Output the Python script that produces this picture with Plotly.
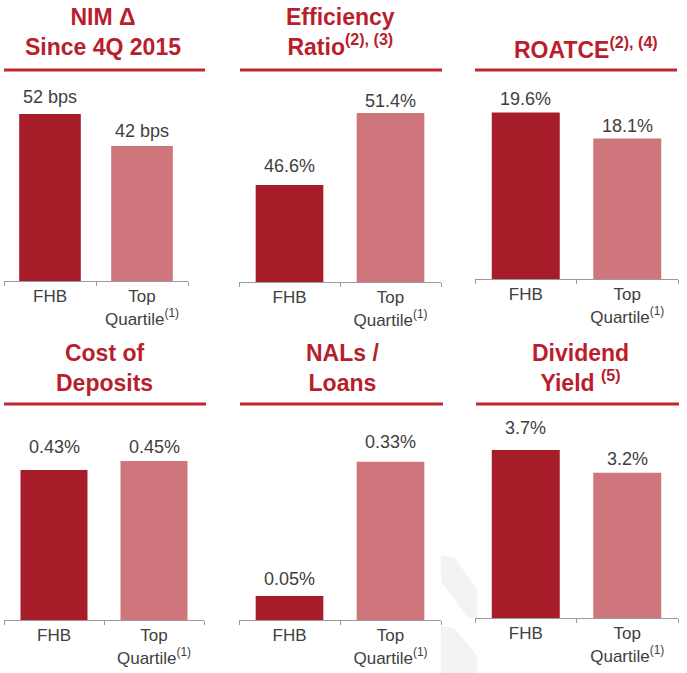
import plotly.graph_objects as go

# ---------------- data ----------------
categories = ["FHB", "Top Quartile"]
tick_labels = ["FHB", "Top<br>Quartile<sup>(1)</sup>"]

titles = [
    "NIM Δ<br>Since 4Q 2015",
    "Efficiency<br>Ratio<sup>(2), (3)</sup>",
    "ROATCE<sup>(2), (4)</sup>",
    "Cost of<br>Deposits",
    "NALs /<br>Loans",
    "Dividend<br>Yield <sup>(5)</sup>",
]

nim_delta_bps = [52, 42]
efficiency_ratio = [46.6, 51.4]
roatce = [19.6, 18.1]
cost_of_deposits = [0.43, 0.45]
nals_loans = [0.05, 0.33]
dividend_yield = [3.7, 3.2]

series = [nim_delta_bps, efficiency_ratio, roatce, cost_of_deposits, nals_loans, dividend_yield]
label_fmt = [
    lambda v: f"{v:.0f} bps",
    lambda v: f"{v:.1f}%",
    lambda v: f"{v:.1f}%",
    lambda v: f"{v:.2f}%",
    lambda v: f"{v:.2f}%",
    lambda v: f"{v:.1f}%",
]

# ---------------- styling / layout (pixels) ----------------
W, H = 687, 673
def fx(x):
    return x / W
def fy(y):
    return 1 - y / H

# x0, x1, baseline y, top y, y-range
panels = [
    dict(x0=4, x1=188, yb=281, yt=75, rng=[0, 64.1]),
    dict(x0=239, x1=441, yb=282, yt=75, rng=[40.13, 53.93]),
    dict(x0=475, x1=678, yb=279, yt=75, rng=[10.0, 21.77]),
    dict(x0=4, x1=204, yb=620, yt=410, rng=[0.0967, 0.563]),
    dict(x0=239, x1=441, yb=620, yt=410, rng=[0.0, 0.438]),
    dict(x0=475, x1=678, yb=618, yt=410, rng=[0.0, 4.58]),
]
title_pos = [(103, 32), (340, 32), (586, 48), (104, 368), (342, 368), (580, 368)]
underlines = [(4, 205, 70), (240, 442, 70), (475, 677, 70),
              (4, 206, 404), (240, 443, 404), (476, 679, 404)]
label_offsets = [[17, 15], [19, 12], [14, 13], [23, 14], [17, 20], [22, 14]]

DARK = "#a71c29"
PINK = "#cf767d"
TITLE_RED = "#b81e2c"
LINE_RED = "#c0262f"
TEXT_GRAY = "#404040"
AXIS_GRAY = "#9a9a9a"
FONT = "Liberation Sans, Arial, sans-serif"

fig = go.Figure()
annotations = []
shapes = []

for i, (vals, p) in enumerate(zip(series, panels)):
    n = i + 1
    xa = "x" if n == 1 else f"x{n}"
    ya = "y" if n == 1 else f"y{n}"
    fig.add_trace(go.Bar(
        x=categories, y=vals,
        marker=dict(color=[DARK, PINK], line=dict(width=0)),
        xaxis=xa, yaxis=ya, hoverinfo="skip", showlegend=False,
    ))
    xkey = "xaxis" if n == 1 else f"xaxis{n}"
    ykey = "yaxis" if n == 1 else f"yaxis{n}"
    fig.update_layout(**{
        xkey: dict(
            domain=[fx(p["x0"]), fx(p["x1"])], anchor=ya,
            type="category", range=[-0.5, 1.5],
            tickmode="array", tickvals=categories, ticktext=tick_labels,
            tickson="boundaries", ticks="outside", ticklen=4,
            tickcolor=AXIS_GRAY, tickwidth=1,
            showline=True, linecolor=AXIS_GRAY, linewidth=1,
            showgrid=False, zeroline=False, fixedrange=True,
            tickfont=dict(family=FONT, size=17, color=TEXT_GRAY),
        ),
        ykey: dict(
            domain=[fy(p["yb"]), fy(p["yt"])], anchor=xa,
            range=p["rng"], visible=False, showgrid=False,
            zeroline=False, fixedrange=True,
        ),
    })
    # value labels
    for j, v in enumerate(vals):
        annotations.append(dict(
            x=categories[j], y=v, xref=xa, yref=ya,
            text=label_fmt[i](v), showarrow=False,
            yanchor="middle", xanchor="center", yshift=label_offsets[i][j],
            font=dict(family=FONT, size=18, color=TEXT_GRAY),
        ))
    # title
    tx, ty = title_pos[i]
    annotations.append(dict(
        x=fx(tx), y=fy(ty), xref="paper", yref="paper",
        text=f"<b>{titles[i]}</b>", showarrow=False,
        xanchor="center", yanchor="middle", align="center",
        font=dict(family=FONT, size=23, color=TITLE_RED),
    ))
    ux0, ux1, uy = underlines[i]
    shapes.append(dict(
        type="line", xref="paper", yref="paper",
        x0=fx(ux0), x1=fx(ux1), y0=fy(uy), y1=fy(uy),
        line=dict(color=LINE_RED, width=3),
    ))

# faint decorative background shapes
def path(pts):
    s = "M " + " L ".join(f"{fx(x):.4f},{fy(y):.4f}" for x, y in pts) + " Z"
    return s
for pts in [
    [(441, 555), (455, 558), (477, 590), (477, 618), (468, 618), (441, 582)],
    [(441, 626), (455, 629), (477, 656), (477, 673), (441, 673)],
]:
    shapes.append(dict(type="path", xref="paper", yref="paper", path=path(pts),
                       fillcolor="#f3f3f3", line=dict(width=0), layer="below"))

fig.update_layout(
    width=W, height=H,
    margin=dict(l=0, r=0, t=0, b=0),
    paper_bgcolor="white", plot_bgcolor="rgba(0,0,0,0)",
    bargap=0.33, showlegend=False,
    annotations=annotations, shapes=shapes,
    font=dict(family=FONT),
)

fig.write_html("out.html", post_script="document.body.style.margin='0';",
               config={"displayModeBar": False})
